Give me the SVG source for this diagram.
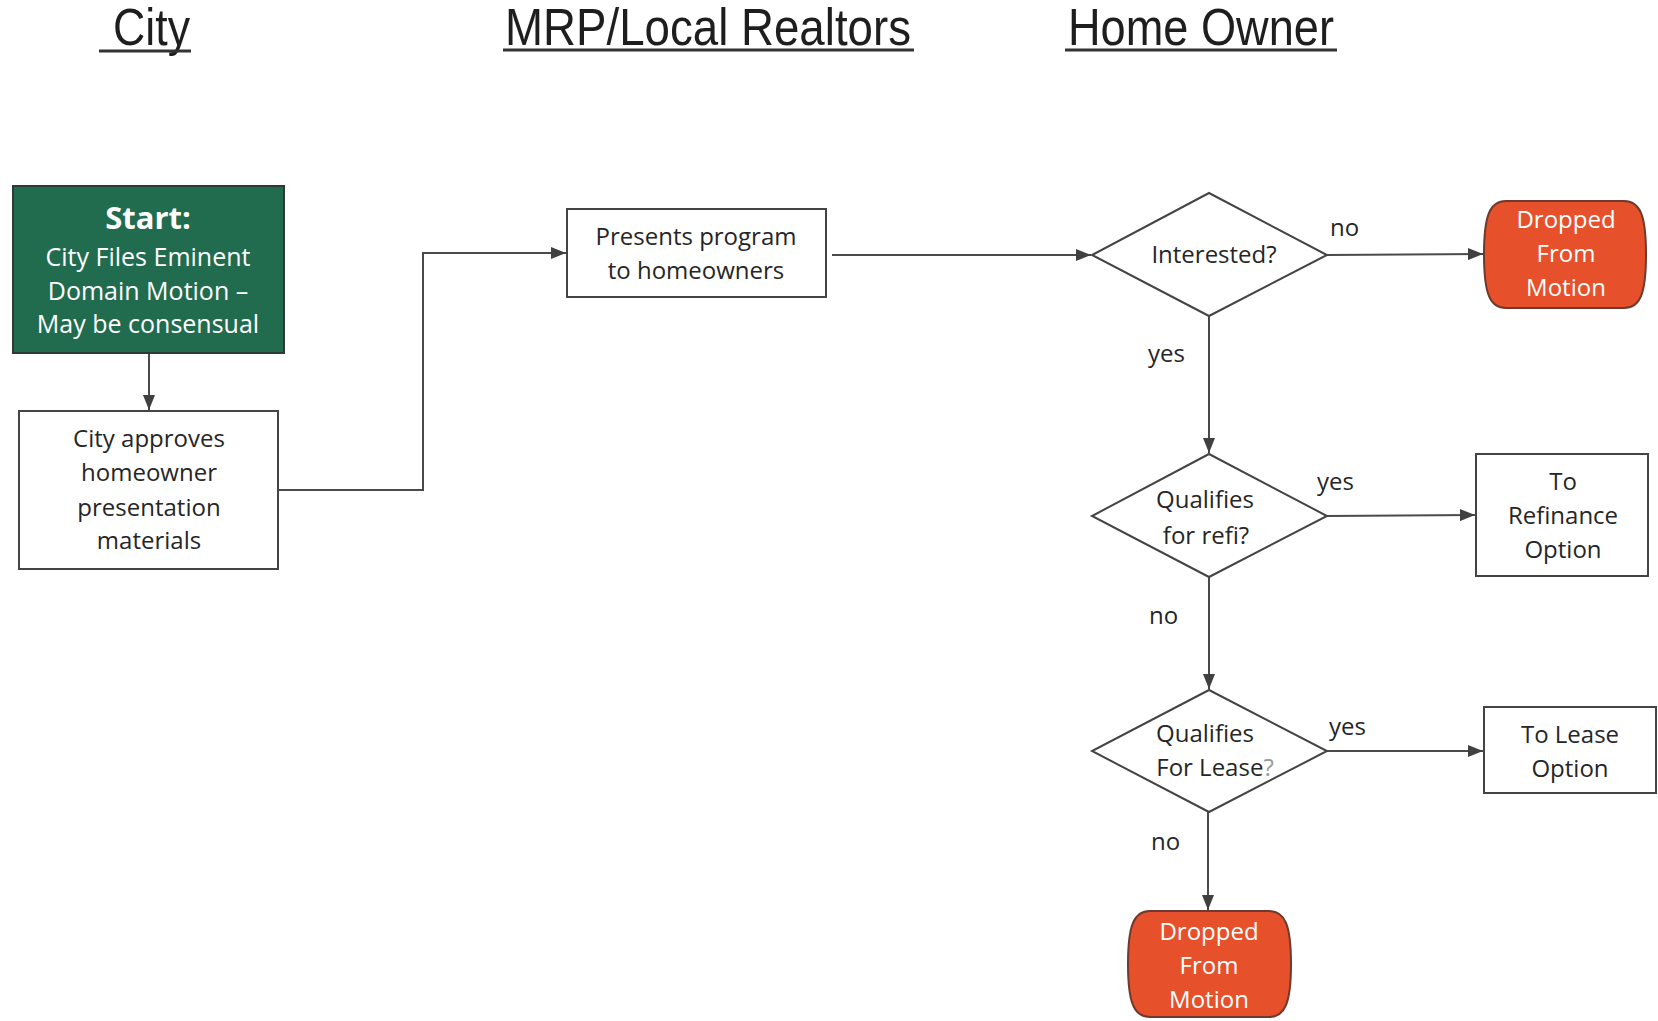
<svg xmlns="http://www.w3.org/2000/svg" width="1658" height="1021" viewBox="0 0 1658 1021">
<defs>
<style>
.hdr{font-family:"Liberation Sans",Arial,sans-serif;font-size:52px;fill:#1e1e1e;}
.ul{stroke:#333;stroke-width:3;}
.t{font-family:"Open Sans","Noto Sans",sans-serif;font-size:24px;fill:#262626;text-anchor:middle;}
.w{fill:#fff;}
.box{fill:#fff;stroke:#444;stroke-width:2;}
.start{fill:#216c4f;stroke:#2f3a34;stroke-width:2;}
.drop{fill:#e6502a;stroke:#6e3a2e;stroke-width:2;}
.dia{fill:#fff;stroke:#444;stroke-width:2;}
.c{fill:none;stroke:#4a4a4a;stroke-width:2;}
.lbl{font-family:"Open Sans","Noto Sans",sans-serif;font-size:24px;fill:#262626;}
</style>
<marker id="ah" markerUnits="userSpaceOnUse" markerWidth="15" markerHeight="12" refX="15" refY="6" orient="auto">
<path d="M0,0 L15,6 L0,12 Z" fill="#404040"/>
</marker>
</defs>
<rect width="1658" height="1021" fill="#fff"/>

<g id="headers">
<text class="hdr" x="113" y="45" textLength="77" lengthAdjust="spacingAndGlyphs">City</text>
<line class="ul" x1="99" y1="51" x2="191" y2="51"/>
<text class="hdr" x="505" y="45" textLength="406" lengthAdjust="spacingAndGlyphs">MRP/Local Realtors</text>
<line class="ul" x1="503" y1="50" x2="914" y2="50"/>
<text class="hdr" x="1068" y="45" textLength="266" lengthAdjust="spacingAndGlyphs">Home Owner</text>
<line class="ul" x1="1065" y1="50" x2="1337" y2="50"/>
</g>

<g id="connectors">
<line class="c" x1="149" y1="353" x2="149" y2="410" marker-end="url(#ah)"/>
<polyline class="c" points="279,490 423,490 423,253 566,253" marker-end="url(#ah)"/>
<line class="c" x1="832" y1="255" x2="1091" y2="255" marker-end="url(#ah)"/>
<line class="c" x1="1327" y1="255" x2="1483" y2="254" marker-end="url(#ah)"/>
<line class="c" x1="1209" y1="316" x2="1209" y2="453" marker-end="url(#ah)"/>
<line class="c" x1="1327" y1="516" x2="1475" y2="515" marker-end="url(#ah)"/>
<line class="c" x1="1209" y1="577" x2="1209" y2="689" marker-end="url(#ah)"/>
<line class="c" x1="1327" y1="751" x2="1483" y2="751" marker-end="url(#ah)"/>
<line class="c" x1="1208" y1="812" x2="1208" y2="910" marker-end="url(#ah)"/>
<text class="lbl" x="1330" y="236">no</text>
<text class="lbl" x="1148" y="362">yes</text>
<text class="lbl" x="1317" y="490">yes</text>
<text class="lbl" x="1149" y="624">no</text>
<text class="lbl" x="1329" y="735">yes</text>
<text class="lbl" x="1151" y="850">no</text>
</g>

<g id="start">
<rect class="start" x="13" y="186" width="271" height="167"/>
<text class="t w" x="148" y="229" style="font-weight:bold;font-size:31px">Start:</text>
<text class="t w" x="148" y="266" style="font-size:25px">City Files Eminent</text>
<text class="t w" x="148" y="300" style="font-size:25px">Domain Motion –</text>
<text class="t w" x="148" y="333" style="font-size:25px">May be consensual</text>
</g>

<g id="approve">
<rect class="box" x="19" y="411" width="259" height="158"/>
<text class="t" x="149" y="447">City approves</text>
<text class="t" x="149" y="481">homeowner</text>
<text class="t" x="149" y="516">presentation</text>
<text class="t" x="149" y="549">materials</text>
</g>

<g id="presents">
<rect class="box" x="567" y="209" width="259" height="88"/>
<text class="t" x="696" y="245">Presents program</text>
<text class="t" x="696" y="279">to homeowners</text>
</g>

<g id="interested">
<polygon class="dia" points="1209,193 1327,255 1209,316 1092,255"/>
<text class="t" x="1214" y="263">Interested?</text>
</g>

<g id="dropped1">
<path class="drop" d="M1506,201 H1624 C1640,201 1646,215 1646,254.5 C1646,294 1640,308 1624,308 H1506 C1490,308 1484,294 1484,254.5 C1484,215 1490,201 1506,201 Z"/>
<text class="t w" x="1566" y="228">Dropped</text>
<text class="t w" x="1566" y="262">From</text>
<text class="t w" x="1566" y="296">Motion</text>
</g>

<g id="refi">
<polygon class="dia" points="1209,454 1327,516 1209,577 1092,516"/>
<text class="t" x="1205" y="508">Qualifies</text>
<text class="t" x="1206" y="544">for refi?</text>
</g>

<g id="refibox">
<rect class="box" x="1476" y="454" width="172" height="122"/>
<text class="t" x="1563" y="490">To</text>
<text class="t" x="1563" y="524">Refinance</text>
<text class="t" x="1563" y="558">Option</text>
</g>

<g id="lease">
<polygon class="dia" points="1209,690 1327,751 1209,812 1092,751"/>
<text class="t" x="1205" y="742">Qualifies</text>
<text class="t" x="1215" y="776">For Lease<tspan fill="#9a9a9a">?</tspan></text>
</g>

<g id="leasebox">
<rect class="box" x="1484" y="707" width="172" height="86"/>
<text class="t" x="1570" y="743">To Lease</text>
<text class="t" x="1570" y="777">Option</text>
</g>

<g id="dropped2">
<path class="drop" d="M1150,911 H1269 C1285,911 1291,925 1291,964 C1291,1003 1285,1017 1269,1017 H1150 C1134,1017 1128,1003 1128,964 C1128,925 1134,911 1150,911 Z"/>
<text class="t w" x="1209" y="940">Dropped</text>
<text class="t w" x="1209" y="974">From</text>
<text class="t w" x="1209" y="1008">Motion</text>
</g>
</svg>
